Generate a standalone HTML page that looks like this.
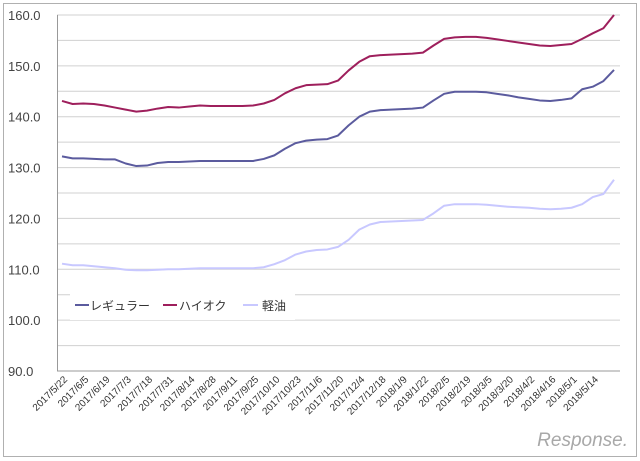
<!DOCTYPE html>
<html><head><meta charset="utf-8"><style>
html,body{margin:0;padding:0;background:#fff;width:640px;height:461px;overflow:hidden}
text{font-family:"Liberation Sans","Noto Sans CJK JP",sans-serif}
</style></head><body>
<svg id="chart" width="640" height="461" xmlns="http://www.w3.org/2000/svg">
<rect x="3.5" y="3.5" width="633" height="453" fill="#fff" stroke="#b0b0b0"/>
<g id="grid"></g><g id="series"></g><g id="labels"></g>
<g>
<rect x="70" y="290" width="225" height="30" fill="#fff"/>
<line x1="75" y1="305" x2="89" y2="305" stroke="#5B5B9E" stroke-width="2"/>
<text x="90" y="310" font-size="12" fill="#333">レギュラー</text>
<line x1="163" y1="305" x2="177" y2="305" stroke="#9E1F5C" stroke-width="2"/>
<text x="179" y="310" font-size="12" fill="#333">ハイオク</text>
<line x1="243" y1="305" x2="258" y2="305" stroke="#C8C8FF" stroke-width="2"/>
<text x="262" y="310" font-size="12" fill="#333">軽油</text>
</g>
<text x="628" y="446" text-anchor="end" font-size="19" fill="#a8a8a8" font-style="italic">Response.</text>
</svg>
<script>
const dateLabels=["2017/5/22","2017/6/5","2017/6/19","2017/7/3","2017/7/18","2017/7/31","2017/8/14","2017/8/28","2017/9/11","2017/9/25","2017/10/10","2017/10/23","2017/11/6","2017/11/20","2017/12/4","2017/12/18","2018/1/9","2018/1/22","2018/2/5","2018/2/19","2018/3/5","2018/3/20","2018/4/2","2018/4/16","2018/5/1","2018/5/14"];
const yTicks=[90,100,110,120,130,140,150,160];
const regular=[132.2,131.8,131.8,131.7,131.6,131.6,130.8,130.3,130.4,130.9,131.1,131.1,131.2,131.3,131.3,131.3,131.3,131.3,131.3,131.7,132.4,133.7,134.8,135.3,135.5,135.6,136.3,138.3,140.0,141.0,141.3,141.4,141.5,141.6,141.8,143.2,144.5,144.9,144.9,144.9,144.8,144.5,144.2,143.8,143.5,143.2,143.1,143.3,143.6,145.4,145.9,147.0,149.2];
const highOctane=[143.1,142.5,142.6,142.5,142.2,141.8,141.4,141.0,141.2,141.6,141.9,141.8,142.0,142.2,142.1,142.1,142.1,142.1,142.2,142.6,143.3,144.6,145.6,146.2,146.3,146.4,147.1,149.1,150.8,151.9,152.1,152.2,152.3,152.4,152.6,154.0,155.3,155.6,155.7,155.7,155.5,155.2,154.9,154.6,154.3,154.0,153.9,154.1,154.3,155.3,156.4,157.4,160.0];
const diesel=[111.1,110.8,110.8,110.6,110.4,110.2,109.9,109.8,109.8,109.9,110.0,110.0,110.1,110.2,110.2,110.2,110.2,110.2,110.2,110.4,111.0,111.8,112.9,113.5,113.8,113.9,114.4,115.8,117.8,118.8,119.3,119.4,119.5,119.6,119.7,121.0,122.5,122.8,122.8,122.8,122.7,122.5,122.3,122.2,122.1,121.9,121.8,121.9,122.1,122.8,124.2,124.8,127.6];
const NS="http://www.w3.org/2000/svg";
const X0=62,X1=614,PL=57,PR=620;
const yScale=v=>15+(160-v)*(356/70);
const xScale=i=>X0+i*(X1-X0)/(regular.length-1);
function mk(tag,attrs,parent){const e=document.createElementNS(NS,tag);for(const k in attrs)e.setAttribute(k,attrs[k]);parent.appendChild(e);return e;}
const grid=document.getElementById('grid'),ser=document.getElementById('series'),lab=document.getElementById('labels');
for(let v=90;v<=160;v+=5){const l=mk('line',{x1:PL,x2:PR,y1:yScale(v),y2:yScale(v),stroke:v===90?'#999':'#d0d0d0','stroke-width':1},grid);

}
const ax=mk('line',{x1:PL+.5,x2:PL+.5,y1:15,y2:yScale(90),stroke:'#999'},grid);


yTicks.forEach(v=>{const t=mk('text',{x:8,y:yScale(v)+5,'font-size':13,fill:'#444'},lab);t.textContent=v.toFixed(1);

});
dateLabels.forEach((d,k)=>{const x=xScale(k*2)+6,y=380;const t=mk('text',{x:x,y:y,'font-size':10,fill:'#333','text-anchor':'end',transform:`rotate(-45 ${x} ${y})`},lab);t.textContent=d;

});
[[diesel,'#C8C8FF','diesel-line'],[regular,'#5B5B9E','regular-line'],[highOctane,'#9E1F5C','high-octane-line']].forEach(([arr,c,n])=>{
const p=mk('polyline',{points:arr.map((v,i)=>xScale(i)+','+yScale(v)).join(' '),fill:'none',stroke:c,'stroke-width':2,'stroke-linejoin':'round'},ser);

});
</script>
</body></html>
